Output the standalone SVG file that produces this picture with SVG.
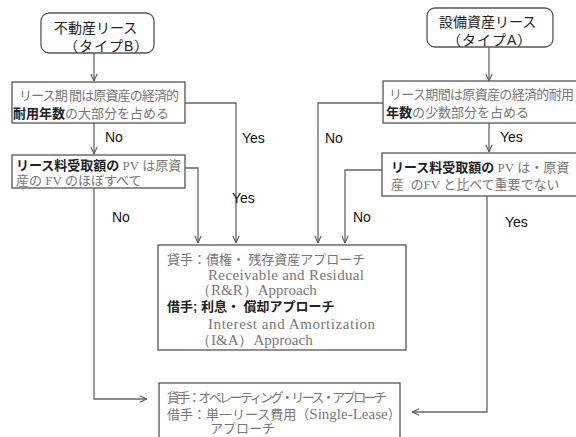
<svg xmlns="http://www.w3.org/2000/svg" width="576" height="437" viewBox="0 0 576 437">
<defs>
<marker id="ah" viewBox="0 0 10 10" refX="10" refY="5" markerWidth="8" markerHeight="8" markerUnits="userSpaceOnUse" orient="auto">
<polyline points="1,1 10,5 1,9" fill="none" stroke="#555" stroke-width="1.3"/>
</marker>
<style>
.box{fill:#fff;stroke:#555;stroke-width:1.3}
.ln{fill:none;stroke:#666;stroke-width:1.3}
.arr{fill:none;stroke:#666;stroke-width:1.3;marker-end:url(#ah)}
.jp{font-family:"Liberation Serif","Noto Sans CJK JP",serif;font-size:13px;fill:#777}
.b{font-family:"Liberation Sans","Noto Sans CJK JP",sans-serif;font-weight:bold;fill:#222}
.ttl{font-family:"Liberation Sans","Noto Sans CJK JP",sans-serif;font-size:14px;fill:#222}
.lbl{font-family:"Liberation Sans",Arial,sans-serif;font-size:14px;fill:#111}
.en{font-family:"Liberation Serif",serif;font-size:15px;fill:#777}
</style>
</defs>
<g id="connectors">
<line class="arr" x1="94" y1="53" x2="94" y2="81"/>
<line class="arr" x1="489" y1="47" x2="489" y2="81"/>
<line class="arr" x1="94" y1="123" x2="94" y2="154"/>
<line class="arr" x1="489" y1="123" x2="489" y2="152"/>
<polyline class="arr" points="185,103 236,103 236,243"/>
<polyline class="arr" points="185,168 198,168 198,243"/>
<polyline class="arr" points="383,103 318,103 318,243"/>
<polyline class="arr" points="382,170 345,170 345,243"/>
<polyline class="arr" points="94,188 94,399 147,399"/>
<polyline class="arr" points="487,196 487,412 412,412"/>
<text class="lbl" x="105" y="142">No</text>
<text class="lbl" x="242" y="143">Yes</text>
<text class="lbl" x="232" y="203">Yes</text>
<text class="lbl" x="112" y="222">No</text>
<text class="lbl" x="325" y="143">No</text>
<text class="lbl" x="500" y="142">Yes</text>
<text class="lbl" x="353" y="222">No</text>
<text class="lbl" x="505" y="227">Yes</text>
</g>
<g id="n_realestate">
<rect class="box" x="41" y="13" width="113" height="40" rx="8"/>
<text class="ttl" x="54" y="33">不動産リース</text>
<text class="ttl" x="64" y="51" letter-spacing="1">（タイプB）</text>
</g>
<g id="n_equipment">
<rect class="box" x="427" y="8" width="126" height="39" rx="8"/>
<text class="ttl" x="439" y="27">設備資産リース</text>
<text class="ttl" x="447" y="45" letter-spacing="1">（タイプA）</text>
</g>
<g id="n_q1b">
<rect class="box" x="12" y="82" width="173" height="41"/>
<text class="jp" x="19" y="100" textLength="160">リース期 間は原資産の経済的</text>
<text class="jp" x="13" y="118"><tspan class="b">耐用年数</tspan>の大部分を占める</text>
</g>
<g id="n_q2b">
<rect class="box" x="12" y="155" width="173" height="33"/>
<text class="jp" x="16" y="170"><tspan class="b">リース料受取額の</tspan> PV は原資</text>
<text class="jp" x="16" y="185">産の FV のほぼすべて</text>
</g>
<g id="n_q1a">
<rect class="box" x="383" y="81" width="200" height="42"/>
<text class="jp" x="389" y="99" textLength="185">リース期間は原資産の経済的耐用</text>
<text class="jp" x="386" y="117"><tspan class="b">年数</tspan>の少数部分を占める</text>
</g>
<g id="n_q2a">
<rect class="box" x="382" y="153" width="200" height="43"/>
<text class="jp" x="391" y="172"><tspan class="b">リース料受取額の</tspan> PV は・原資</text>
<text class="jp" x="391" y="189" xml:space="preserve">産  のFV と比べて重要でない</text>
</g>
<g id="n_rr">
<rect class="box" x="158" y="245" width="248" height="105"/>
<text class="jp" x="167" y="264" font-size="12">貸手：債権・ 残存資産アプローチ</text>
<text class="en" x="208" y="280" textLength="156">Receivable and Residual</text>
<text class="en" x="196" y="295">（R&amp;R）Approach</text>
<text class="jp" x="167" y="311" font-size="12"><tspan class="b">借手; 利息・ 償却アプローチ</tspan></text>
<text class="en" x="208" y="329" textLength="167">Interest and Amortization</text>
<text class="en" x="196" y="345">（I&amp;A）Approach</text>
</g>
<g id="n_op">
<rect class="box" x="159" y="383" width="241" height="60"/>
<text class="jp" x="167" y="402" font-size="11" textLength="220">貸手：オペレーティング・リース・アプローチ</text>
<text class="jp" x="167" y="419" font-size="11"><tspan>借手：単一リース費用（</tspan><tspan class="en" font-size="13">Single-Lease</tspan><tspan>）</tspan></text>
<text class="jp" x="210" y="433" font-size="11">アプローチ</text>
</g>
</svg>
